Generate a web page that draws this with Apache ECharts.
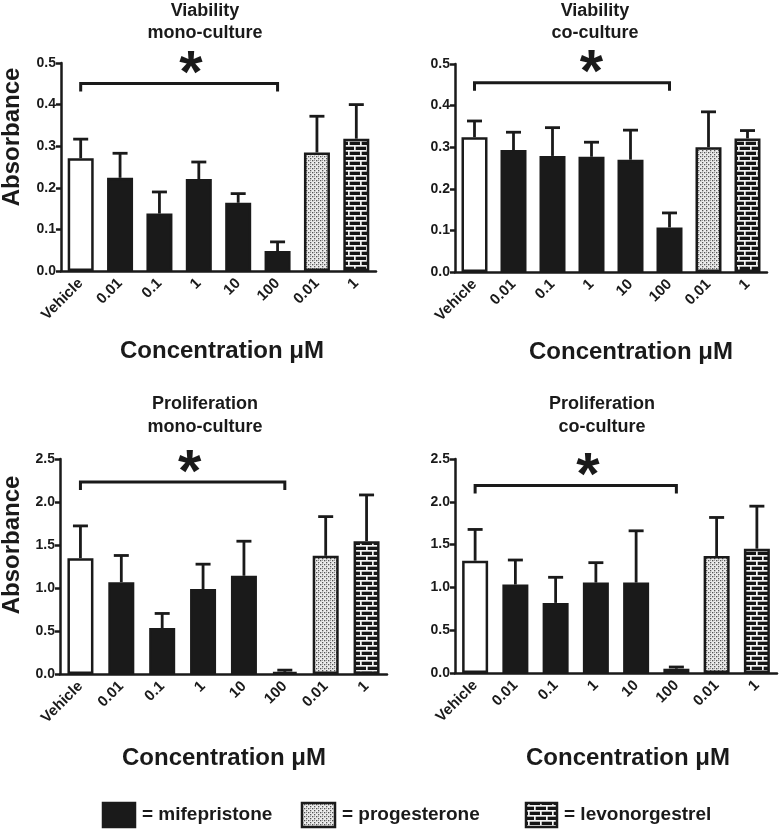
<!DOCTYPE html>
<html>
<head>
<meta charset="utf-8">
<script src="https://cdn.jsdelivr.net/npm/echarts@6/dist/echarts.min.js"></script>
<style>html,body{margin:0;padding:0;background:#fff}#chart{width:780px;height:831px}</style>
</head>
<body>
<div id="chart"></div>
<script>
// ---------- data ----------
const categories = ['Vehicle', '0.01', '0.1', '1', '10', '100', '0.01', '1'];
const treatment = ['vehicle', 'mifepristone', 'mifepristone', 'mifepristone', 'mifepristone', 'mifepristone', 'progesterone', 'levonorgestrel'];

const viabilityMonoMean  = [0.271, 0.224, 0.138, 0.221, 0.164, 0.048, 0.285, 0.318];
const viabilityMonoUpper = [0.317, 0.283, 0.190, 0.262, 0.186, 0.070, 0.372, 0.400];
const viabilityCoMean    = [0.324, 0.293, 0.279, 0.277, 0.270, 0.107, 0.300, 0.321];
const viabilityCoUpper   = [0.363, 0.336, 0.347, 0.312, 0.341, 0.142, 0.385, 0.340];
const prolifMonoMean     = [1.347, 1.068, 0.534, 0.987, 1.142, 0.025, 1.374, 1.544];
const prolifMonoUpper    = [1.722, 1.378, 0.704, 1.277, 1.544, 0.045, 1.830, 2.082];
const prolifCoMean       = [1.312, 1.033, 0.819, 1.056, 1.056, 0.050, 1.366, 1.452];
const prolifCoUpper      = [1.677, 1.320, 1.118, 1.289, 1.661, 0.070, 1.817, 1.949];

const panelTitles = ['Viability\nmono-culture', 'Viability\nco-culture', 'Proliferation\nmono-culture', 'Proliferation\nco-culture'];
const yMaxes = [0.5, 0.5, 2.5, 2.5];
const yIntervals = [0.1, 0.1, 0.5, 0.5];
// significance bracket: from category index, to category index, level, asterisk position (category index)
const bracketFrom = 0, bracketTo = 5;
const bracketLevel = [0.451, 0.455, 2.233, 2.19];
const starIndex = [2.8, 3.0, 2.67, 2.8];
const legendLabels = ['= mifepristone', '= progesterone', '= levonorgestrel'];
const xAxisTitle = 'Concentration μM';
const yAxisTitle = 'Absorbance';

const means = [viabilityMonoMean, viabilityCoMean, prolifMonoMean, prolifCoMean];
const uppers = [viabilityMonoUpper, viabilityCoUpper, prolifMonoUpper, prolifCoUpper];

// ---------- layout / styles ----------
const FONT = '"Liberation Sans", Arial, Helvetica, sans-serif';
const INK = '#1a1a1a';
const grids = [
  { left: 61, top: 63, width: 315, height: 208 },
  { left: 455, top: 64, width: 312, height: 208 },
  { left: 60, top: 459, width: 327, height: 215 },
  { left: 455, top: 459, width: 322, height: 214 }
];
const titlePos = [[205, 0, 22], [595, 0, 22], [205, 393, 23], [602, 393, 23]];
const xTitlePos = [[222, 351], [631, 352], [224, 758], [628, 758]];
const yTitlePos = [[12, 137], [12, 545]];

function dotPattern() {
  const c = document.createElement('canvas');
  c.width = 4; c.height = 4;
  const g = c.getContext('2d');
  g.fillStyle = '#ececec'; g.fillRect(0, 0, 4, 4);
  g.fillStyle = '#555';
  g.fillRect(0, 0, 1.3, 1.3);
  g.fillRect(2, 2, 1.3, 1.3);
  g.fillStyle = '#999';
  g.fillRect(2, 0, 1, 1);
  return c;
}
function brickPattern() {
  const c = document.createElement('canvas');
  c.width = 12; c.height = 10;
  const g = c.getContext('2d');
  g.fillStyle = '#151515'; g.fillRect(0, 0, 12, 10);
  g.fillStyle = '#f4f4f4';
  g.fillRect(0, 0, 12, 1.7);
  g.fillRect(0, 5, 12, 1.7);
  g.fillRect(0, 0, 1.7, 5);
  g.fillRect(6, 5, 1.7, 5);
  return c;
}
const dotImg = dotPattern();
const brickImg = brickPattern();
const fills = {
  vehicle: '#ffffff',
  mifepristone: INK,
  progesterone: { image: dotImg, repeat: 'repeat' },
  levonorgestrel: { image: brickImg, repeat: 'repeat' }
};

function errRender(params, api) {
  const i = api.value(0), m = api.value(1), u = api.value(2);
  const p0 = api.coord([i, m]);
  const p1 = api.coord([i, u]);
  const cap = 7.5;
  return {
    type: 'group', children: [
      { type: 'line', shape: { x1: p0[0], y1: p0[1], x2: p1[0], y2: p1[1] }, style: { stroke: INK, lineWidth: 2.8 } },
      { type: 'line', shape: { x1: p1[0] - cap, y1: p1[1], x2: p1[0] + cap, y2: p1[1] }, style: { stroke: INK, lineWidth: 2.8 } }
    ]
  };
}
function bracketRender(params, api) {
  const a = api.coord([api.value(0), api.value(2)]);
  const b = api.coord([api.value(1), api.value(2)]);
  const c0 = api.coord([0, 0]), c1 = api.coord([1, 0]);
  const sx = c0[0] + api.value(3) * (c1[0] - c0[0]);
  const drop = 8;
  return {
    type: 'group', children: [
      { type: 'polyline', shape: { points: [[a[0], a[1] + drop], [a[0], a[1]], [b[0], b[1]], [b[0], b[1] + drop]] },
        style: { stroke: INK, lineWidth: 3, fill: null } },
      { type: 'text', x: sx, y: a[1] - 8,
        style: { text: '*', font: 'bold 60px ' + FONT, textAlign: 'center', textVerticalAlign: 'middle', fill: INK } }
    ]
  };
}

const xAxes = [], yAxes = [], series = [], gridOpts = [], graphics = [];
for (let k = 0; k < 4; k++) {
  gridOpts.push(Object.assign({ containLabel: false }, grids[k]));
  xAxes.push({
    type: 'category', gridIndex: k, data: categories,
    axisLine: { lineStyle: { color: INK, width: 2.5 } },
    axisTick: { alignWithLabel: true, length: 7, lineStyle: { color: INK, width: 2.5 } },
    axisLabel: { rotate: 45, margin: 10, interval: 0, color: INK, fontSize: 15, fontWeight: 'bold', fontFamily: FONT }
  });
  yAxes.push({
    type: 'value', gridIndex: k, min: 0, max: yMaxes[k], interval: yIntervals[k],
    splitLine: { show: false },
    axisLine: { show: true, lineStyle: { color: INK, width: 2.5 } },
    axisTick: { show: true, length: 5, lineStyle: { color: INK, width: 2.5 } },
    axisLabel: { margin: 5, color: INK, fontSize: 14, fontWeight: 'bold', fontFamily: FONT, formatter: v => v.toFixed(1) }
  });
  series.push({
    type: 'bar', xAxisIndex: k, yAxisIndex: k, barWidth: 26, z: 2,
    data: means[k].map((v, i) => ({ value: v, itemStyle: { color: fills[treatment[i]], borderColor: INK, borderWidth: 2.5 } }))
  });
  series.push({
    type: 'custom', xAxisIndex: k, yAxisIndex: k, z: 3, clip: false,
    renderItem: errRender, encode: { x: 0, y: [1, 2] },
    data: means[k].map((v, i) => [i, v, uppers[k][i]])
  });
  series.push({
    type: 'custom', xAxisIndex: k, yAxisIndex: k, z: 4, clip: false,
    renderItem: bracketRender, encode: { x: 0, y: 2 },
    data: [[bracketFrom, bracketTo, bracketLevel[k], starIndex[k]]]
  });
  graphics.push({
    type: 'text', x: titlePos[k][0], y: titlePos[k][1],
    style: { text: panelTitles[k], font: 'bold 18px ' + FONT, lineHeight: titlePos[k][2], textAlign: 'center', textVerticalAlign: 'top', fill: INK }
  });
  graphics.push({
    type: 'text', x: xTitlePos[k][0], y: xTitlePos[k][1],
    style: { text: xAxisTitle, font: 'bold 24px ' + FONT, textAlign: 'center', textVerticalAlign: 'middle', fill: INK }
  });
}
yTitlePos.forEach(p => graphics.push({
  type: 'text', x: p[0], y: p[1], rotation: Math.PI / 2,
  style: { text: yAxisTitle, font: 'bold 24px ' + FONT, textAlign: 'center', textVerticalAlign: 'middle', fill: INK }
}));

// legend
const legendFills = [fills.mifepristone, fills.progesterone, fills.levonorgestrel];
const legendBoxes = [[103, 803, 32, 24], [302, 803, 33, 24], [526, 803, 31, 24]];
legendBoxes.forEach((b, i) => {
  graphics.push({ type: 'rect', shape: { x: b[0], y: b[1], width: b[2], height: b[3] },
    style: { fill: legendFills[i], stroke: INK, lineWidth: 2.5 } });
  graphics.push({ type: 'text', x: b[0] + b[2] + 7, y: b[1] + b[3] / 2,
    style: { text: legendLabels[i], font: 'bold 19px ' + FONT, textAlign: 'left', textVerticalAlign: 'middle', fill: INK } });
});

const chart = echarts.init(document.getElementById('chart'), null, { renderer: 'canvas' });
chart.setOption({
  animation: false,
  backgroundColor: '#fff',
  grid: gridOpts,
  xAxis: xAxes,
  yAxis: yAxes,
  series: series,
  graphic: graphics
});
</script>
</body>
</html>
